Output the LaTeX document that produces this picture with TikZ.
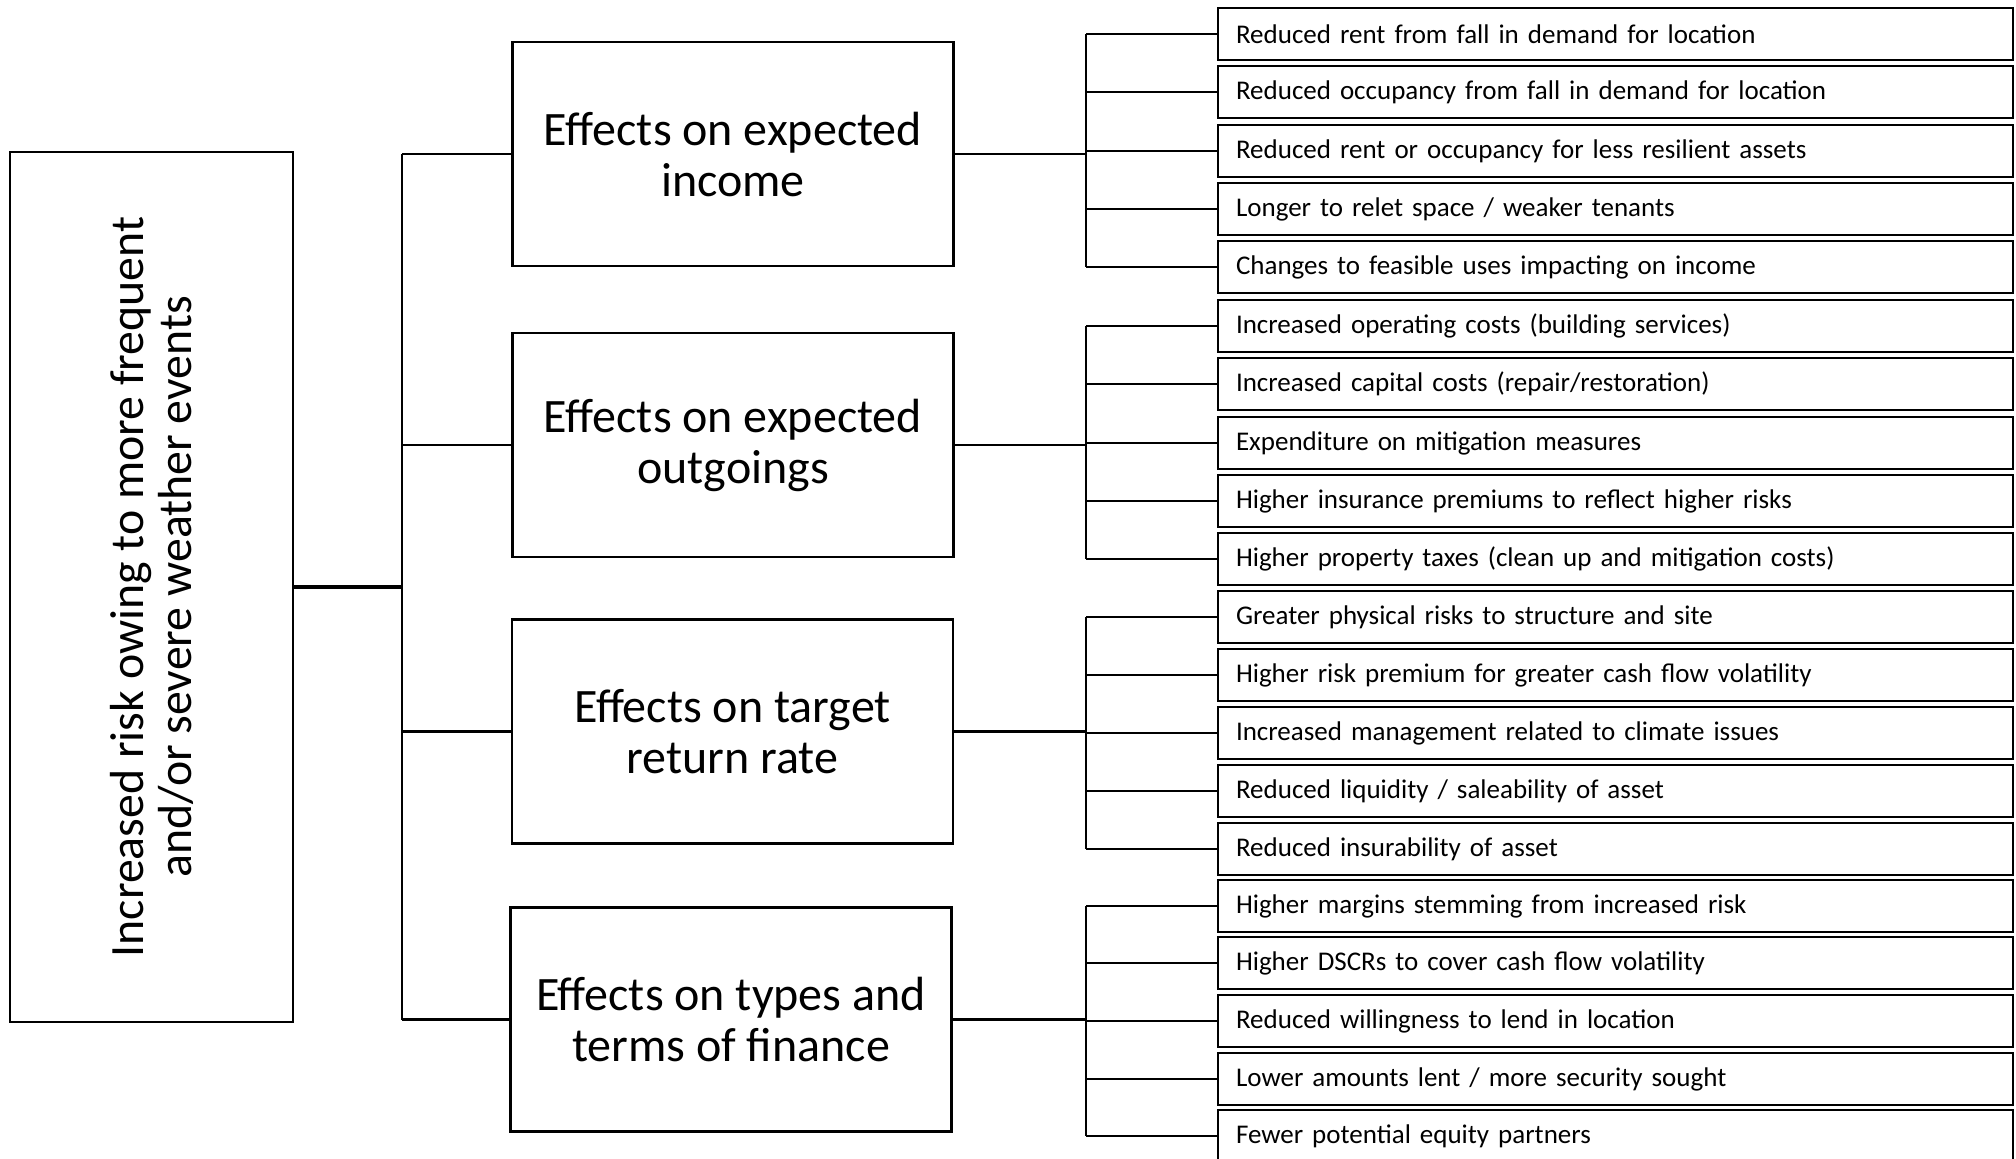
\documentclass[tikz,border=0pt]{standalone}
\usepackage{fontspec}
\setmainfont{Carlito}
\begin{document}
\begin{tikzpicture}[x=1pt,y=-1pt,
  conn/.style={line width=2.6pt},
  midbox/.style={draw,line width=2.6pt,minimum width=441pt,minimum height=224pt,inner sep=0pt,
     align=center,font=\fontsize{48}{51}\selectfont},
  itembox/.style={draw,line width=2.9pt,minimum width=795pt,minimum height=52pt,text width=759pt,
     inner xsep=18pt,inner ysep=0pt,align=left,font=\fontsize{27}{33}\selectfont},
  rootbox/.style={draw,line width=2.6pt,minimum width=870pt,minimum height=283pt,inner sep=0pt,
     align=center,font=\fontsize{47.8}{48}\selectfont}]
\useasboundingbox (0,0) rectangle (2016,1159);
\node[rootbox,rotate=90] (root) at (151.5,587) {Increased risk owing to more frequent\\and/or severe weather events};
\node[midbox] (m1) at (733,154) {Effects on expected\\income};
\node[midbox] (m2) at (733,445) {Effects on expected\\outgoings};
\node[midbox] (m3) at (732.5,731.5) {Effects on target\\return rate};
\node[midbox] (m4) at (731,1019.5) {Effects on types and\\terms of finance};
\foreach \i/\y/\t in {0/34/{Reduced rent from fall in demand for location},
  1/92/{Reduced occupancy from fall in demand for location},
  2/151/{Reduced rent or occupancy for less resilient assets},
  3/209/{Longer to relet space / weaker tenants},
  4/267/{Changes to feasible uses impacting on income},
  5/326/{Increased operating costs (building services)},
  6/384/{Increased capital costs (repair/restoration)},
  7/443/{Expenditure on mitigation measures},
  8/501/{Higher insurance premiums to reflect higher risks},
  9/559/{Higher property taxes (clean up and mitigation costs)},
  10/617/{Greater physical risks to structure and site},
  11/675/{Higher risk premium for greater cash flow volatility},
  12/733/{Increased management related to climate issues},
  13/791/{Reduced liquidity / saleability of asset},
  14/849/{Reduced insurability of asset},
  15/906/{Higher margins stemming from increased risk},
  16/963/{Higher DSCRs to cover cash flow volatility},
  17/1021/{Reduced willingness to lend in location},
  18/1079/{Lower amounts lent / more security sought},
  19/1136/{Fewer potential equity partners}}
  \node[itembox] (r\i) at (1615.5,\y) {\t};
% main bus
\coordinate (busT) at (402,0 |- m1.west);
\coordinate (busB) at (402,0 |- m4.west);
\draw[conn] (busT) -- (busB);
\draw[line width=3.2pt] (root.south) -- (root.south -| busT);
\foreach \m in {1,2,3,4} \draw[conn] (m\m.west -| busT) -- (m\m.west);
% group buses
\foreach \m/\a/\b in {1/0/4,2/5/9,3/10/14,4/15/19}{
  \draw[conn] (m\m.east) -- (1086,0 |- m\m.east);
  \draw[conn] (1086,0 |- r\a.west) -- (1086,0 |- r\b.west);
  \foreach \k in {\a,...,\b} \draw[conn] (1086,0 |- r\k.west) -- (r\k.west);
}
\end{tikzpicture}
\end{document}
